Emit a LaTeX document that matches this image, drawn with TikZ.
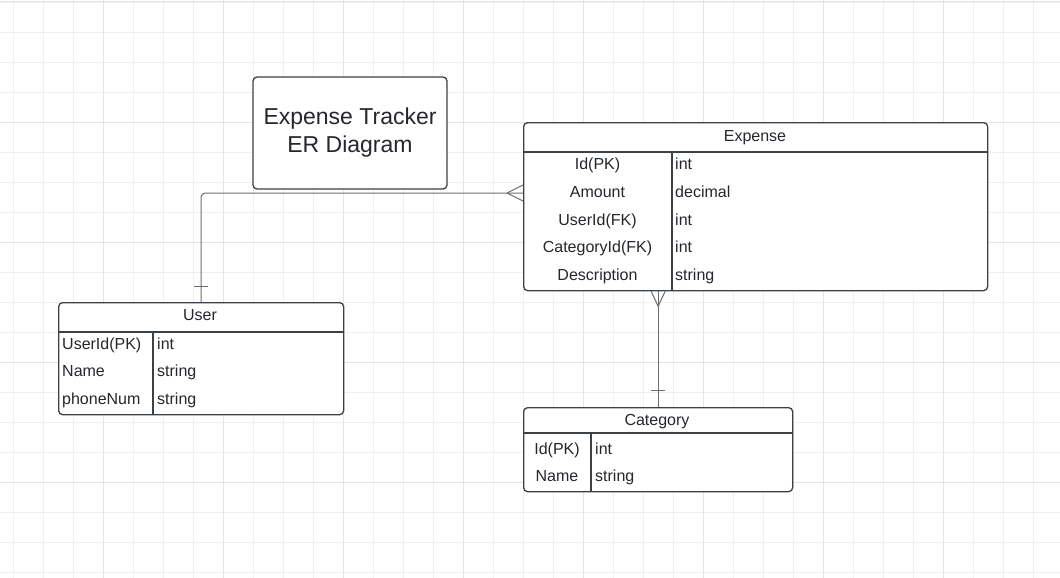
\documentclass[tikz,border=0pt]{standalone}
\usepackage{fontspec}
\setmainfont{Liberation Sans}
\usetikzlibrary{calc,positioning}
\definecolor{erink}{HTML}{24272C}
\definecolor{erline}{HTML}{3C4047}
\definecolor{erlink}{HTML}{6A6E74}
\definecolor{ergridmin}{HTML}{F0F0F0}
\definecolor{ergridmaj}{HTML}{E5E5E5}
\tikzset{
  er text/.style={font=\fontsize{16}{19}\selectfont, text=erink, inner sep=0pt},
  er box/.style={draw=erline, line width=1.3pt, rounded corners=4pt, fill=white,
    anchor=north west, inner sep=0pt},
  er title/.style={draw=erline, line width=1.3pt, rounded corners=4pt, fill=white,
    inner sep=0pt, align=center, text=erink, font=\fontsize{23}{28}\selectfont},
  er rule/.style={draw=erline, line width=1.3pt},
  er link/.style={draw=erlink, line width=1pt, rounded corners=4pt},
  er mark/.style={draw=erlink, line width=1pt},
  grid minor/.style={draw=ergridmin, line width=0.9pt},
  grid major/.style={draw=ergridmaj, line width=1pt}
}

\begin{document}
\begin{tikzpicture}[x=1pt, y=-1pt]
  \useasboundingbox (0,0) rectangle (1060,578);
  % background grid
  \foreach \gx in {13,43,...,1053} \draw[grid minor] (\gx,0) -- (\gx,578);
  \foreach \gy in {2,32,...,572} \draw[grid minor] (0,\gy) -- (1060,\gy);
  \foreach \gx in {103,223,...,943} \draw[grid major] (\gx,0) -- (\gx,578);
  \foreach \gy in {2,122,...,482} \draw[grid major] (0,\gy) -- (1060,\gy);

  % title
  \node[er title, minimum width=194pt, minimum height=112pt] (title) at (350,133)
    {Expense Tracker\\ER Diagram};

  % entities
  \node[er box, minimum width=464pt, minimum height=168pt] (expense) at (523,122) {};
  \node[er box, minimum width=285pt, minimum height=112pt] (user) at (58,302) {};
  \node[er box, minimum width=269pt, minimum height=84pt] (category) at (523,407) {};

  \draw[er rule] ($(expense.north west)+(0,30)$) -- ($(expense.north east)+(0,30)$);
  \draw[er rule] ($(expense.north west)+(149,30)$) -- ($(expense.south west)+(149,0)$);
  \draw[er rule] ($(user.north west)+(0,30)$) -- ($(user.north east)+(0,30)$);
  \draw[er rule] ($(user.north west)+(95,30)$) -- ($(user.south west)+(95,0)$);
  \draw[er rule] ($(category.north west)+(0,26)$) -- ($(category.north east)+(0,26)$);
  \draw[er rule] ($(category.north west)+(68,26)$) -- ($(category.south west)+(68,0)$);

  \node[er text, anchor=base] (expensehead) at (755,141) {Expense};
  \node[er text, anchor=base] (userhead) at (200,320) {User};
  \node[er text, anchor=base] (categoryhead) at (657,425) {Category};

  \foreach \k/\f/\ty in {0/Id(PK)/int, 1/Amount/decimal, 2/UserId(FK)/int,
      3/CategoryId(FK)/int, 4/Description/string} {
    \node[er text, anchor=base] (exf\k) at (597.5,169.5+27.75*\k) {\f};
    \node[er text, anchor=base west] (ext\k) at (675,169.5+27.75*\k) {\ty};
  }
  \foreach \k/\f/\ty in {0/UserId(PK)/int, 1/Name/string, 2/phoneNum/string} {
    \node[er text, anchor=base west] (usf\k) at (62,349+27.5*\k) {\f};
    \node[er text, anchor=base west] (ust\k) at (157,349+27.5*\k) {\ty};
  }
  \foreach \k/\f/\ty in {0/Id(PK)/int, 1/Name/string} {
    \node[er text, anchor=base] (caf\k) at (557,454+27*\k) {\f};
    \node[er text, anchor=base west] (cat\k) at (595,454+27*\k) {\ty};
  }

  % relationships
  \coordinate (uxcrow) at ($(expense.north west)+(0,71)$);
  \draw[er link] (user.north) |- (uxcrow);
  \draw[er mark] ($(uxcrow)+(-16,0)$) -- ($(uxcrow)+(0,-8)$)
                 ($(uxcrow)+(-16,0)$) -- ($(uxcrow)+(0,8)$);
  \draw[er mark] ($(user.north)+(-7,-16)$) -- ++(14,0);

  \coordinate (cxcrow) at (category.north |- expense.south);
  \draw[er link] (category.north) -- (cxcrow);
  \draw[er mark] ($(cxcrow)+(-7,0)$) -- ($(cxcrow)+(0,15)$) -- ($(cxcrow)+(7,0)$);
  \draw[er mark] ($(category.north)+(-7,-17)$) -- ++(14,0);
\end{tikzpicture}
\end{document}
